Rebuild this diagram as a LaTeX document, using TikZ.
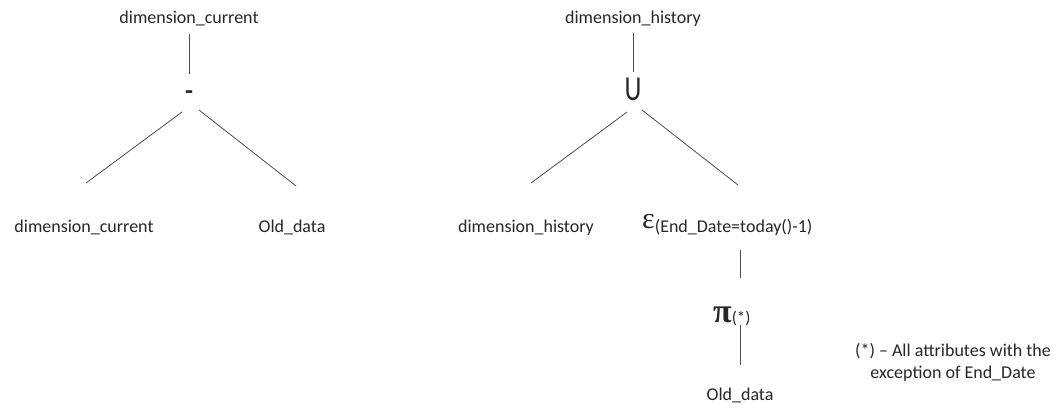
\documentclass[tikz,border=0pt]{standalone}
\usepackage{fontspec}
\setmainfont{Carlito}
\newfontfamily\symfont{Liberation Serif}
\usetikzlibrary{calc}
\begin{document}
\begin{tikzpicture}[x=1pt,y=-1pt,
  lbl/.style={font=\fontsize{18}{22}\selectfont, text=black!85, inner sep=0pt, anchor=base},
  opnode/.style={text=black!85, inner sep=0pt, anchor=base},
  edge/.style={draw=black!70, line width=0.8pt}]
\useasboundingbox (0,0) rectangle (1062,407);

% difference: dimension_current - Old_data
\node[lbl] (dcTop) at (189,23) {dimension\_current};
\node[opnode, font=\bfseries\fontsize{26}{26}\selectfont] (minus) at (189,99) {-};
\node[lbl] (dcLeaf) at (84,232) {dimension\_current};
\node[lbl] (oldA) at (292,232) {Old\_data};

\draw[edge] ($(dcTop.base)+(0,11)$) -- ($(minus.base)+(0,-25)$);
\draw[edge] ($(minus.base)+(-7,13)$) -- ($(dcLeaf.base)+(2,-49)$);
\draw[edge] ($(minus.base)+(10,11)$) -- ($(oldA.base)+(4,-46)$);

% union: dimension_history U selected history rows
\node[lbl] (dhTop) at (633,23) {dimension\_history};
\node[opnode, font=\fontsize{35}{35}\selectfont] (union) at (633,100) {\scalebox{0.75}[1]{U}};
\node[lbl] (dhLeaf) at (526,232) {dimension\_history};
\node[opnode, anchor=base west] (sel) at (642,228)
  {{\symfont\fontsize{30}{30}\selectfont ε}\fontsize{18}{22}\selectfont\raisebox{-4pt}{(End\_Date=today()-1)}};
\node[opnode, anchor=base west] (proj) at (713,322)
  {{\symfont\bfseries\fontsize{34}{34}\selectfont π}\fontsize{17}{20}\selectfont\raisebox{-1pt}{(*)}};
\node[lbl] (oldB) at (740,400) {Old\_data};

\draw[edge] ($(dhTop.base)+(0,10)$) -- ($(union.base)+(0,-28)$);
\draw[edge] ($(union.base)+(-6,12)$) -- ($(dhLeaf.base)+(5,-49)$);
\draw[edge] ($(union.base)+(9,10)$) -- ($(oldB.base)+(-2,-215)$);
\draw[edge] ($(oldB.base)+(0,-150)$) -- ($(oldB.base)+(0,-122)$);
\draw[edge] ($(oldB.base)+(0,-75)$) -- ($(oldB.base)+(0,-35)$);

% footnote on the projection list
\node[lbl, align=center] (note) at (953,378)
  {(*) – All attributes with the\\exception of End\_Date};
\end{tikzpicture}
\end{document}
